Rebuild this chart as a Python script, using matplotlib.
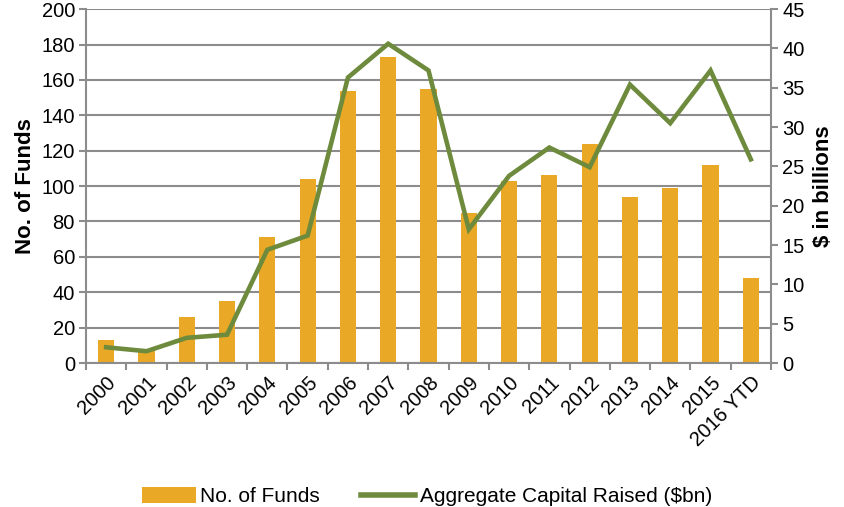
import numpy as np
import matplotlib.pyplot as plt
from matplotlib.lines import Line2D
from matplotlib.patches import Patch

plt.rcParams['font.family'] = ['Liberation Sans', 'DejaVu Sans']

years = ["2000", "2001", "2002", "2003", "2004", "2005", "2006", "2007", "2008",
         "2009", "2010", "2011", "2012", "2013", "2014", "2015", "2016 YTD"]
num_funds = [13, 8, 26, 35, 71, 104, 154, 173, 155, 85, 103, 106, 124, 94, 99, 112, 48]
capital_bn = [2.0, 1.5, 3.2, 3.6, 14.4, 16.2, 36.3, 40.6, 37.2, 17.0, 23.8, 27.4,
              24.9, 35.4, 30.5, 37.2, 25.9]

bar_color = "#E9A825"
line_color = "#6E8B3D"
grid_color = "#8C8C8C"
tick_fs = 14.5

fig = plt.figure(figsize=(8.45, 5.07), dpi=100)
ax = fig.add_axes([0.1018, 0.284, 0.8106, 0.698])
ax2 = ax.twinx()

x = np.arange(len(years))
ax.bar(x, num_funds, width=0.4, color=bar_color, zorder=2)
ax2.plot(x, capital_bn, color=line_color, linewidth=3.3, solid_joinstyle='miter', zorder=3)

ax.set_xlim(-0.5, len(years) - 0.5)
ax.set_ylim(0, 200)
ax.set_yticks(np.arange(0, 201, 20))
ax2.set_ylim(0, 45)
ax2.set_yticks(np.arange(0, 46, 5))

ax.yaxis.grid(True, color=grid_color, linewidth=1.5, zorder=0)
ax.set_axisbelow(True)

# category ticks sit on the boundaries, labels in the middle
ax.set_xticks(np.arange(-0.5, len(years), 1))
ax.set_xticklabels([])
ax.set_xticks(x, minor=True)
ax.set_xticklabels(years, minor=True, rotation=45, ha='right', va='top',
                   rotation_mode='anchor', fontsize=tick_fs)
ax.tick_params(axis='x', which='major', length=5, color=grid_color, width=1.5)
ax.tick_params(axis='x', which='minor', length=0, pad=7)
ax.tick_params(axis='y', length=5, color=grid_color, width=1.5, labelsize=tick_fs, pad=3)
ax2.tick_params(axis='y', length=5, color=grid_color, width=1.5, labelsize=tick_fs, pad=3)

for a in (ax, ax2):
    for s in a.spines.values():
        s.set_visible(False)
    a.spines['left'].set_visible(a is ax)
    a.spines['right'].set_visible(a is ax2)
    a.spines['bottom'].set_visible(a is ax)
ax.spines['left'].set_color(grid_color)
ax.spines['left'].set_linewidth(1.5)
ax.spines['bottom'].set_color(grid_color)
ax.spines['bottom'].set_linewidth(1.5)
ax2.spines['right'].set_color(grid_color)
ax2.spines['right'].set_linewidth(1.5)

ax.set_ylabel("No. of Funds", fontsize=16, fontweight='bold', labelpad=4)
ax2.set_ylabel("$ in billions", fontsize=16, fontweight='bold', labelpad=6)

handles = [Patch(facecolor=bar_color, edgecolor='none'),
           Line2D([0], [0], color=line_color, linewidth=4)]
fig.legend(handles, ["No. of Funds", "Aggregate Capital Raised ($bn)"],
           loc='center', bbox_to_anchor=(0.505, 0.02), ncol=2, frameon=False,
           fontsize=15, handlelength=2.6, handleheight=0.75, columnspacing=2.0,
           handletextpad=0.2)

fig.savefig("out.png", dpi=100)
